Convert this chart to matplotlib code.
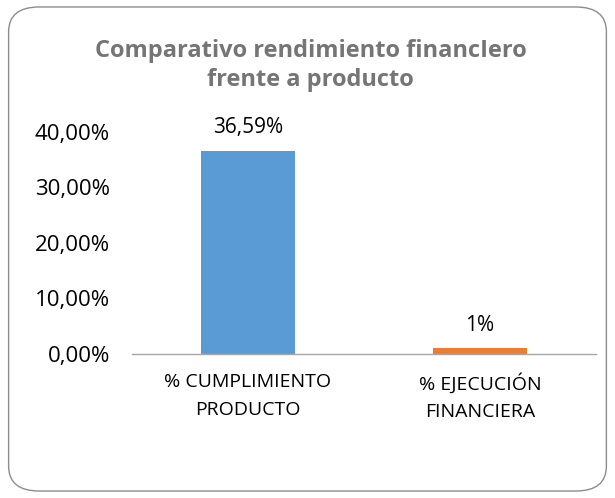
import matplotlib
matplotlib.use("Agg")
from matplotlib import pyplot as plt
from matplotlib.patches import FancyBboxPatch
from matplotlib.ticker import FuncFormatter

categories = ["% CUMPLIMIENTO\nPRODUCTO", "% EJECUCIÓN\nFINANCIERA"]
values = [36.59, 1.0]
value_labels = ["36,59%", "1%"]
bar_colors = ["#5B9BD5", "#ED7D31"]
y_ticks = [0, 10, 20, 30, 40]
title = "Comparativo rendimiento financIero\nfrente a producto"

plt.rcParams["font.family"] = ["Open Sans", "DejaVu Sans"]

fig = plt.figure(figsize=(6.15, 4.98), dpi=100)

# rounded outer border
border = FancyBboxPatch(
    (0.014, 0.014), 0.972, 0.972,
    boxstyle="round,pad=0,rounding_size=0.05",
    transform=fig.transFigure, facecolor="none",
    edgecolor="#8c8c8c", linewidth=1.0, zorder=0,
)
fig.patches.append(border)

ax = fig.add_axes([0.2146, 0.2892, 0.7544, 0.4458])
ax.set_facecolor("none")

x = list(range(len(categories)))
ax.bar(x, values, width=0.405, color=bar_colors, zorder=2)

for xi, v, lab in zip(x, values, value_labels):
    ax.annotate(lab, (xi, v), xytext=(0, 9), textcoords="offset points",
                ha="center", va="bottom", fontsize=15, color="#000000")

ax.set_xlim(-0.5, 1.5)
ax.set_ylim(0, 40)
ax.set_yticks(y_ticks)
ax.yaxis.set_major_formatter(FuncFormatter(lambda v, p: f"{v:.2f}%".replace(".", ",")))
ax.set_xticks(x)
ax.set_xticklabels(categories, fontsize=14, linespacing=1.65)
ax.tick_params(axis="y", length=0, labelsize=16, pad=16)
ax.tick_params(axis="x", length=0, pad=14)

for side in ["top", "right", "left"]:
    ax.spines[side].set_visible(False)
ax.spines["bottom"].set_color("#a6a6a6")
ax.spines["bottom"].set_linewidth(1.0)

fig.text(0.505, 0.868, title, ha="center", va="center", fontsize=17,
         fontweight="bold", color="#757575", linespacing=1.3)

fig.savefig("out.png", dpi=100)
